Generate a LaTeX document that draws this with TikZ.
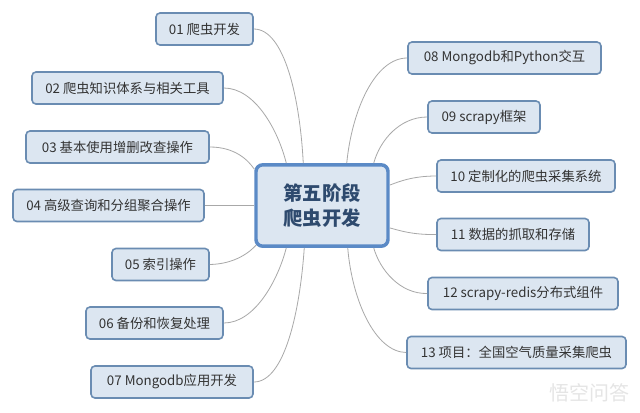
\documentclass[tikz,border=0pt]{standalone}
\usepackage{fontspec}
\setmainfont{Noto Sans CJK SC}
\definecolor{boxfill}{HTML}{DCE6F1}
\definecolor{boxline}{HTML}{6A8CB2}
\definecolor{cline}{HTML}{5B8AC6}
\definecolor{ctext}{HTML}{2E4A6E}
\definecolor{wire}{HTML}{A8A8A8}
\definecolor{btext}{HTML}{333333}
\tikzset{
  leaf/.style={draw=boxline, line width=1.2pt, fill=boxfill, rounded corners=3pt,
    minimum height=24pt, inner xsep=6pt, font=\fontsize{10}{12}\selectfont, text=btext, anchor=center},
  hub/.style={draw=cline, line width=2.6pt, fill=boxfill, rounded corners=5pt,
    minimum width=99pt, minimum height=61pt, font=\fontsize{14.5}{19}\selectfont\bfseries, text=ctext, align=center},
  wirestyle/.style={draw=wire, line width=0.6pt}
}
\begin{document}
\begin{tikzpicture}[x=0.75pt,y=-0.75pt]
\useasboundingbox (0,0) rectangle (640,412);
\fill[white] (0,0) rectangle (640,412);
\node[hub] (c) at (322,205.5) {第五阶段\\爬虫开发};
% left
\node[leaf, minimum width=72.75pt] (n01) at (204.5,29) {01 爬虫开发};
\node[leaf, minimum width=143.25pt] (n02) at (127.5,88) {02 爬虫知识体系与相关工具};
\node[leaf, minimum width=137.25pt] (n03) at (117.5,147) {03 基本使用增删改查操作};
\node[leaf, minimum width=143.25pt] (n04) at (108.5,205.5) {04 高级查询和分组聚合操作};
\node[leaf, minimum width=72.75pt] (n05) at (160.5,264.5) {05 索引操作};
\node[leaf, minimum width=102.75pt] (n06) at (154.5,323) {06 备份和恢复处理};
\node[leaf, minimum width=121.5pt] (n07) at (172,382) {07 Mongodb应用开发};
% right
\node[leaf, minimum width=144.75pt] (n08) at (504.5,58) {08 Mongodb和Python交互};
\node[leaf, minimum width=84pt] (n09) at (484,117) {09 scrapy框架};
\node[leaf, minimum width=133.5pt] (n10) at (526,176) {10 定制化的爬虫采集系统};
\node[leaf, minimum width=114pt] (n11) at (513,234.5) {11 数据的抓取和存储};
\node[leaf, minimum width=142.5pt] (n12) at (523,293.5) {12 scrapy-redis分布式组件};
\node[leaf, minimum width=164.25pt] (n13) at (516.5,352.5) {13 项目：全国空气质量采集爬虫};
% attachment points on the hub
\path (c.north west) ++(49,0) coordinate (t01);
\path (c.north west) ++(32,0) coordinate (t02);
\path (c.north west) ++(0,6) coordinate (t03);
\path (c.south west) ++(2,-3) coordinate (t05);
\path (c.south west) ++(32,0) coordinate (t06);
\path (c.south west) ++(50,0) coordinate (t07);
\path (c.north east) ++(-43,0) coordinate (t08);
\path (c.north east) ++(-16,0) coordinate (t09);
\path (c.north east) ++(0,22) coordinate (t10);
\path (c.south east) ++(0,-20) coordinate (t11);
\path (c.south east) ++(-16,0) coordinate (t12);
\path (c.south east) ++(-42,0) coordinate (t13);
% connectors
\draw[wirestyle] (n01.east) .. controls (285,29) and (300,100) .. (t01);
\draw[wirestyle] (n02.east) .. controls (255,88) and (278,130) .. (t02);
\draw[wirestyle] (n03.east) .. controls (235,147) and (248,160) .. (t03);
\draw[wirestyle] (n04.east) -- (c.west);
\draw[wirestyle] (n05.east) .. controls (235,264) and (250,252) .. (t05);
\draw[wirestyle] (n06.east) .. controls (255,323) and (278,280) .. (t06);
\draw[wirestyle] (n07.east) .. controls (285,382) and (300,310) .. (t07);
\draw[wirestyle] (n08.east -| n08.west) .. controls (375,58) and (352,110) .. (t08);
\draw[wirestyle] (n09.west) .. controls (400,117) and (380,140) .. (t09);
\draw[wirestyle] (n10.west) .. controls (412,176) and (398,182) .. (t10);
\draw[wirestyle] (n11.west) .. controls (412,235) and (398,230) .. (t11);
\draw[wirestyle] (n12.west) .. controls (400,294) and (380,270) .. (t12);
\draw[wirestyle] (n13.west) .. controls (375,352) and (352,300) .. (t13);
% watermark
\node[text=black!10, font=\fontsize{15}{18}\selectfont, anchor=east] (wm) at (634,393) {悟空问答};
\end{tikzpicture}
\end{document}
